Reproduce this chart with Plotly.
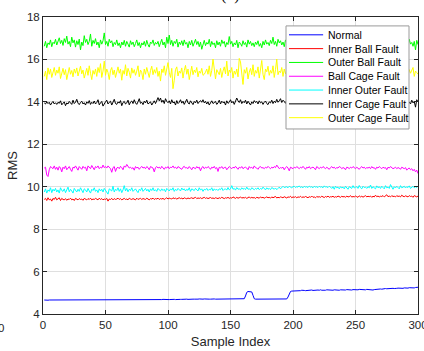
import plotly.graph_objects as go

sample_index = list(range(1, 301))

normal = [
    4.66,4.65,4.66,4.65,4.66,4.66,4.65,4.66,4.65,4.66,
    4.66,4.65,4.66,4.66,4.65,4.66,4.66,4.65,4.66,4.65,
    4.66,4.66,4.65,4.66,4.66,4.65,4.66,4.66,4.65,4.66,
    4.66,4.65,4.66,4.66,4.67,4.66,4.65,4.66,4.66,4.65,
    4.66,4.66,4.65,4.66,4.66,4.67,4.66,4.66,4.65,4.66,
    4.66,4.67,4.66,4.66,4.67,4.66,4.67,4.66,4.66,4.67,
    4.66,4.67,4.67,4.66,4.67,4.66,4.67,4.67,4.66,4.67,
    4.67,4.66,4.67,4.67,4.68,4.67,4.67,4.68,4.67,4.67,
    4.68,4.67,4.68,4.67,4.68,4.68,4.67,4.68,4.68,4.67,
    4.68,4.68,4.67,4.68,4.68,4.69,4.68,4.68,4.69,4.68,
    4.68,4.69,4.68,4.69,4.69,4.68,4.69,4.69,4.68,4.69,
    4.69,4.70,4.69,4.69,4.70,4.69,4.70,4.71,4.69,4.70,
    4.70,4.69,4.70,4.70,4.71,4.70,4.69,4.70,4.71,4.70,
    4.70,4.71,4.70,4.70,4.71,4.70,4.71,4.70,4.70,4.71,
    4.70,4.71,4.70,4.71,4.70,4.70,4.71,4.70,4.71,4.70,
    4.71,4.70,4.70,4.71,4.70,4.71,4.70,4.70,4.71,4.70,
    4.72,4.85,5.02,5.06,5.06,5.06,5.04,4.88,4.72,4.70,
    4.70,4.71,4.70,4.70,4.71,4.70,4.71,4.70,4.71,4.70,
    4.71,4.70,4.71,4.71,4.70,4.71,4.70,4.71,4.71,4.70,
    4.71,4.70,4.71,4.72,4.71,4.80,4.98,5.06,5.08,5.08,
    5.09,5.08,5.09,5.10,5.09,5.10,5.12,5.10,5.11,5.10,
    5.11,5.12,5.10,5.12,5.13,5.11,5.12,5.10,5.12,5.13,
    5.12,5.14,5.12,5.11,5.13,5.12,5.14,5.13,5.12,5.14,
    5.13,5.12,5.14,5.13,5.11,5.10,5.12,5.14,5.13,5.15,
    5.14,5.13,5.15,5.14,5.15,5.14,5.13,5.15,5.14,5.16,
    5.15,5.14,5.16,5.15,5.14,5.16,5.15,5.14,5.16,5.15,
    5.16,5.15,5.14,5.13,5.15,5.16,5.17,5.16,5.17,5.18,
    5.17,5.19,5.18,5.20,5.19,5.20,5.21,5.19,5.20,5.21,
    5.20,5.22,5.21,5.22,5.21,5.23,5.22,5.21,5.23,5.22,
    5.23,5.22,5.24,5.23,5.22,5.24,5.23,5.25,5.24,5.26,
]

inner_ball = [
    9.40,9.45,9.35,9.48,9.38,9.42,9.32,9.45,9.40,9.50,
    9.38,9.42,9.48,9.35,9.45,9.40,9.38,9.44,9.36,9.42,
    9.40,9.46,9.38,9.42,9.35,9.45,9.40,9.38,9.44,9.40,
    9.42,9.36,9.45,9.40,9.38,9.44,9.40,9.46,9.38,9.42,
    9.40,9.45,9.42,9.38,9.46,9.40,9.44,9.38,9.42,9.40,
    9.45,9.32,9.42,9.40,9.45,9.38,9.44,9.40,9.42,9.46,
    9.40,9.44,9.38,9.42,9.45,9.40,9.42,9.38,9.46,9.42,
    9.40,9.44,9.42,9.38,9.46,9.40,9.43,9.45,9.40,9.44,
    9.42,9.40,9.46,9.42,9.38,9.44,9.42,9.46,9.40,9.44,
    9.42,9.46,9.40,9.44,9.42,9.45,9.40,9.44,9.48,9.42,
    9.46,9.44,9.42,9.48,9.44,9.46,9.42,9.45,9.48,9.44,
    9.46,9.42,9.48,9.45,9.43,9.47,9.44,9.46,9.48,9.44,
    9.46,9.50,9.44,9.47,9.45,9.48,9.44,9.46,9.50,9.45,
    9.48,9.44,9.46,9.49,9.45,9.47,9.44,9.48,9.46,9.44,
    9.48,9.45,9.50,9.46,9.44,9.48,9.46,9.50,9.45,9.48,
    9.46,9.52,9.47,9.45,9.50,9.46,9.48,9.52,9.46,9.49,
    9.47,9.50,9.45,9.48,9.52,9.46,9.50,9.47,9.49,9.45,
    9.50,9.48,9.46,9.52,9.48,9.50,9.46,9.49,9.52,9.48,
    9.50,9.46,9.52,9.48,9.50,9.54,9.47,9.50,9.48,9.52,
    9.50,9.48,9.53,9.50,9.47,9.52,9.50,9.55,9.48,9.52,
    9.50,9.53,9.48,9.52,9.50,9.55,9.49,9.52,9.50,9.54,
    9.51,9.48,9.53,9.50,9.56,9.50,9.52,9.48,9.54,9.51,
    9.53,9.50,9.55,9.52,9.49,9.54,9.51,9.56,9.50,9.53,
    9.52,9.55,9.50,9.53,9.51,9.56,9.52,9.50,9.55,9.52,
    9.54,9.50,9.56,9.52,9.53,9.58,9.51,9.54,9.52,9.56,
    9.53,9.50,9.57,9.52,9.55,9.51,9.54,9.58,9.52,9.55,
    9.53,9.56,9.50,9.55,9.52,9.60,9.53,9.56,9.52,9.55,
    9.54,9.58,9.52,9.55,9.62,9.53,9.56,9.52,9.58,9.54,
    9.55,9.52,9.58,9.54,9.56,9.52,9.60,9.55,9.53,9.57,
    9.55,9.52,9.58,9.54,9.56,9.50,9.58,9.55,9.52,9.56,
]

outer_ball = [
    16.62,16.85,16.55,16.78,16.70,16.92,16.60,16.81,16.74,16.95,
    16.68,16.88,17.02,16.75,16.90,16.66,16.98,16.80,17.10,16.72,
    16.85,16.60,17.05,16.78,16.92,16.58,16.88,16.70,16.96,16.45,
    16.82,16.65,17.12,16.80,16.95,16.70,16.85,17.20,16.62,16.90,
    16.75,16.98,16.68,16.82,16.55,16.92,16.72,16.88,17.25,16.70,
    16.85,16.62,16.95,16.78,16.88,16.60,16.80,16.70,16.92,16.65,
    16.78,16.55,16.82,16.68,16.90,16.62,16.85,16.72,16.58,16.88,
    16.70,16.82,16.60,16.75,16.92,16.65,16.80,16.55,16.78,16.68,
    16.85,16.62,16.90,16.70,16.58,16.82,16.75,16.92,16.66,16.80,
    16.72,16.85,16.60,16.78,16.95,16.68,16.82,16.55,17.05,16.75,
    17.15,16.70,16.90,16.62,16.85,16.75,16.95,16.58,16.82,16.70,
    16.88,16.65,16.92,16.72,16.80,16.55,16.85,16.68,16.90,16.62,
    16.78,16.95,16.70,16.85,16.60,16.82,16.48,16.75,16.90,16.65,
    16.80,16.72,16.95,16.60,16.85,16.70,16.78,16.55,16.88,16.68,
    16.82,16.62,16.92,16.75,16.85,16.58,16.80,16.70,17.08,16.72,
    16.85,16.60,16.78,16.68,16.90,16.55,16.82,16.75,16.62,16.88,
    16.70,16.80,16.58,16.92,16.72,16.85,16.65,16.78,16.60,16.82,
    16.70,16.88,16.62,16.75,16.55,16.85,16.68,16.92,16.72,16.80,
    16.65,16.90,16.75,17.05,16.70,16.85,16.62,16.95,16.78,16.88,
    16.68,16.82,16.60,16.92,16.75,16.85,16.70,16.95,16.58,16.80,
    16.72,16.88,16.65,16.82,16.95,16.70,16.85,16.62,16.90,16.78,
    16.68,16.92,16.75,16.85,16.60,16.88,16.72,16.95,16.65,16.80,
    16.78,16.62,16.90,16.70,16.85,16.58,16.92,16.75,16.82,16.68,
    16.95,16.72,16.85,16.62,16.80,16.70,16.92,16.78,16.65,16.88,
    16.75,16.82,16.60,16.95,16.70,16.85,16.68,16.90,16.78,16.62,
    16.88,16.72,16.80,16.65,16.92,16.75,16.85,16.58,16.82,16.70,
    16.95,16.62,16.88,16.75,16.80,16.68,16.92,16.72,16.85,16.60,
    16.78,16.90,16.70,16.82,16.65,16.95,16.75,16.88,16.62,16.80,
    16.72,16.92,16.68,16.85,16.78,16.60,16.90,16.75,16.82,16.70,
    16.88,16.65,16.95,16.72,16.80,16.62,16.85,16.45,16.90,16.70,
]

ball_cage = [
    10.88,10.92,10.55,10.48,10.80,10.95,10.90,10.85,10.98,10.82,
    10.92,10.78,10.95,10.88,10.70,10.92,10.85,10.98,10.80,10.90,
    10.95,10.82,10.72,10.92,10.88,10.98,10.85,10.78,10.95,10.90,
    10.82,10.96,10.88,10.92,10.75,10.98,10.90,10.85,11.00,10.88,
    10.80,10.95,10.90,10.98,10.85,10.92,10.88,11.02,10.90,10.95,
    10.88,10.98,10.92,10.85,10.68,10.90,10.95,10.72,10.88,10.92,
    10.85,10.96,10.90,10.80,10.98,10.92,11.05,10.95,10.88,10.92,
    10.85,10.90,10.78,10.95,10.88,10.92,10.82,10.90,10.96,10.88,
    10.92,10.85,10.95,10.90,10.80,10.95,10.92,10.88,10.70,10.90,
    10.95,10.88,10.92,10.85,10.96,10.90,10.82,10.92,10.88,10.95,
    10.85,10.92,10.90,10.98,10.88,10.92,10.85,10.95,10.90,10.88,
    10.82,10.92,10.96,10.88,10.90,10.85,10.95,10.88,10.80,10.92,
    10.90,10.85,10.95,10.88,10.92,10.75,10.90,10.95,10.85,10.92,
    10.88,10.95,10.90,10.82,10.92,10.88,10.96,10.85,10.90,10.72,
    10.92,10.88,10.95,10.85,10.90,10.92,10.80,10.88,10.95,10.90,
    10.85,10.92,10.88,10.96,10.90,10.82,10.92,10.88,10.95,10.85,
    10.90,10.92,10.88,10.80,10.95,10.88,10.92,10.85,10.98,10.90,
    10.88,10.82,10.92,10.95,10.88,10.90,10.85,10.92,10.88,10.96,
    10.90,10.85,10.92,10.88,10.95,10.90,11.02,10.92,10.85,10.90,
    10.88,10.92,10.80,10.90,10.95,10.88,10.75,10.92,10.90,10.85,
    10.92,10.88,10.95,10.90,10.85,10.92,10.88,10.96,10.90,10.82,
    10.92,10.88,10.95,10.85,10.90,10.92,10.88,10.80,10.95,10.90,
    10.85,10.92,10.88,10.95,10.90,10.85,10.92,10.88,10.82,10.90,
    10.95,10.88,10.92,10.85,10.90,10.88,10.95,10.92,10.85,10.90,
    10.88,10.80,10.92,10.90,10.85,10.92,10.88,10.95,10.90,10.85,
    10.92,10.88,10.82,10.90,10.95,10.88,10.92,10.85,10.90,10.88,
    10.92,10.85,10.95,10.88,10.90,10.82,10.92,10.88,10.95,10.90,
    10.85,10.92,10.88,10.90,10.80,10.92,10.88,10.95,10.90,10.85,
    10.88,10.92,10.85,10.90,10.88,10.82,10.92,10.88,10.85,10.90,
    10.78,10.85,10.88,10.80,10.85,10.75,10.82,10.70,10.78,10.62,
]

inner_outer = [
    9.75,9.90,9.70,9.85,9.78,9.95,9.72,9.88,9.80,9.92,
    9.75,9.85,9.70,9.95,9.82,9.78,9.90,9.72,9.85,9.98,
    9.76,9.88,9.80,9.70,9.92,9.82,9.75,9.88,9.78,9.95,
    9.80,9.72,9.90,9.85,9.75,9.92,9.80,9.70,9.88,9.82,
    9.95,9.78,9.85,9.72,9.90,9.80,9.88,9.75,9.92,9.82,
    9.78,9.65,9.90,9.85,9.80,10.02,9.75,9.88,9.82,9.95,
    9.78,9.90,9.72,9.85,10.05,9.80,9.92,9.76,9.88,9.82,
    9.95,9.78,9.85,9.90,9.80,9.72,9.88,9.82,9.95,9.78,
    9.85,9.92,9.80,9.88,9.75,9.90,9.82,9.95,9.80,9.86,
    9.78,9.92,9.85,9.80,9.90,9.82,9.88,9.76,9.92,9.85,
    9.80,9.90,9.84,9.95,9.78,9.88,9.82,9.92,9.86,9.80,
    9.94,9.85,9.90,9.80,9.88,9.83,9.95,9.78,9.90,9.85,
    9.82,9.92,9.86,9.80,9.95,9.84,9.90,9.78,9.88,9.85,
    9.92,9.82,9.88,9.85,9.95,9.80,9.90,9.84,9.88,9.82,
    9.90,9.86,9.95,9.82,9.88,9.90,9.84,9.96,9.85,9.90,
    10.05,9.88,9.92,9.84,9.96,9.88,9.90,9.85,9.95,9.88,
    9.92,9.86,9.98,9.88,9.90,9.85,9.95,9.90,9.86,9.92,
    9.88,9.95,9.86,9.92,9.88,9.98,9.90,9.85,9.95,9.88,
    9.92,9.86,9.96,9.90,9.88,9.94,9.86,9.92,9.98,9.90,
    9.95,10.02,9.96,9.98,10.00,9.95,10.02,9.98,9.95,10.00,
    10.02,9.96,10.00,9.98,10.04,9.96,10.00,9.95,10.02,9.98,
    10.00,9.96,10.03,9.98,10.00,9.95,10.02,9.98,10.00,9.96,
    10.02,9.98,10.00,9.95,10.04,9.98,10.00,9.96,10.02,9.98,
    9.92,10.00,9.88,10.02,9.95,9.98,9.90,10.00,9.94,9.98,
    9.90,10.02,9.95,9.88,10.00,9.96,9.92,10.05,9.94,9.98,
    10.00,9.92,10.06,9.95,9.90,10.02,9.96,9.98,9.92,10.00,
    9.95,10.08,9.92,10.00,9.96,9.90,10.04,9.95,10.00,9.92,
    10.02,9.96,9.90,10.05,9.95,9.98,9.92,10.10,9.95,9.88,
    10.00,9.94,10.02,9.96,9.90,10.05,9.95,9.98,10.02,9.94,
    10.00,9.96,10.04,9.92,9.98,10.02,9.95,10.00,9.96,10.02,
]

inner_cage = [
    13.95,13.90,14.00,13.92,13.98,13.85,13.95,14.02,13.90,13.96,
    13.88,13.98,13.93,14.05,13.86,13.95,14.00,13.82,13.95,13.90,
    14.02,13.95,13.88,14.08,13.92,13.98,14.12,13.94,13.87,13.97,
    14.03,13.90,13.96,13.85,14.00,13.93,14.06,13.88,13.98,13.92,
    14.04,13.90,13.97,14.10,13.86,13.95,14.02,13.80,13.94,14.00,
    14.08,13.90,13.98,14.03,13.85,13.96,14.12,13.92,13.88,14.00,
    13.94,14.06,13.82,13.97,14.02,13.90,13.95,14.08,13.86,13.99,
    14.04,13.92,14.10,13.95,13.88,14.00,14.15,13.93,13.98,13.87,
    14.03,13.95,14.08,13.90,13.97,14.00,13.85,13.98,14.05,13.92,
    14.12,14.20,14.05,14.18,13.98,14.08,13.92,14.15,14.02,13.96,
    14.05,13.90,14.10,13.95,14.00,13.85,14.06,13.92,13.98,14.10,
    13.94,14.03,13.88,14.00,14.12,13.95,13.90,14.05,13.97,13.87,
    14.02,13.95,14.08,13.92,14.00,14.06,13.98,14.10,13.95,14.02,
    13.90,14.00,13.85,13.97,14.05,13.92,13.98,14.02,13.88,13.95,
    14.08,13.90,14.03,13.96,14.00,13.85,14.05,13.93,13.98,14.10,
    13.95,14.02,13.88,14.00,14.18,14.05,13.97,14.10,13.92,14.02,
    13.96,14.08,13.90,14.03,13.95,13.85,14.00,13.92,14.06,13.97,
    14.02,13.90,14.05,13.95,14.00,13.88,13.98,14.04,13.92,13.87,
    14.00,13.95,14.08,13.92,14.03,13.96,14.12,13.98,14.05,14.15,
    13.97,14.08,14.02,13.93,14.10,13.98,14.05,13.90,14.00,14.06,
    13.95,14.03,13.88,14.00,14.08,13.92,13.98,14.05,13.95,14.02,
    13.90,14.00,14.10,13.93,13.98,14.05,13.88,14.02,13.95,14.00,
    14.06,13.92,13.97,14.03,13.85,14.00,13.95,14.08,13.92,13.98,
    14.02,13.90,14.05,13.96,14.00,13.88,13.98,14.06,13.94,14.02,
    13.95,14.08,13.92,13.98,14.03,13.90,14.00,13.85,14.05,13.96,
    14.00,13.93,14.08,13.95,14.02,13.88,13.98,14.04,13.92,13.98,
    14.05,13.90,14.00,13.95,14.06,13.92,13.98,14.02,13.87,14.00,
    13.95,14.05,13.90,14.00,13.96,14.08,13.92,13.98,14.03,13.95,
    14.02,13.88,14.00,13.94,14.06,13.97,13.85,14.02,13.95,14.00,
    13.92,14.05,13.98,13.90,14.08,13.95,14.02,13.75,14.10,14.00,
]

outer_cage = [
    15.20,15.45,15.05,15.60,15.30,15.55,15.15,15.48,15.62,15.25,
    15.50,15.35,15.65,15.10,15.42,15.58,15.28,15.52,15.05,15.40,
    15.62,15.30,15.48,15.18,15.55,15.35,15.60,15.22,15.45,15.68,
    15.32,15.50,15.12,15.42,15.58,15.25,15.70,15.35,15.05,15.48,
    15.30,15.55,15.20,15.62,15.38,15.80,15.15,15.45,15.92,15.25,
    15.55,15.38,15.05,15.48,15.62,15.28,15.50,15.15,15.42,15.65,
    15.35,15.55,15.02,15.48,15.30,15.75,15.22,15.58,15.40,15.12,
    15.60,15.35,15.52,15.25,15.45,15.70,15.18,15.50,15.38,15.05,
    15.55,15.30,15.62,15.42,15.15,15.48,15.68,15.28,15.52,15.35,
    15.62,15.20,15.45,14.98,15.55,15.38,15.70,15.25,15.48,15.85,
    15.40,15.15,15.58,14.62,15.02,15.52,15.65,15.22,15.45,15.35,
    15.60,15.12,15.48,15.72,15.30,15.55,15.05,15.42,15.68,15.28,
    15.50,15.38,15.62,15.18,15.45,15.35,15.58,15.25,15.30,15.40,
    15.55,15.30,15.70,15.20,15.48,16.02,15.35,15.08,15.52,15.42,
    15.28,15.58,15.15,15.45,15.65,15.32,15.92,15.22,15.50,15.38,
    15.62,15.12,15.45,15.30,15.55,15.18,16.05,15.88,15.25,14.82,
    15.52,15.35,15.62,15.08,15.40,15.58,15.28,15.75,15.20,15.48,
    15.35,15.65,15.12,15.50,15.95,15.30,15.05,15.55,15.42,15.68,
    15.25,15.48,15.35,15.70,15.15,15.52,16.02,15.28,15.45,15.38,
    15.62,15.20,15.55,15.32,15.48,15.12,15.65,15.40,15.28,15.58,
    15.35,15.50,15.15,15.62,15.30,15.45,15.72,15.22,15.55,15.38,
    15.48,15.25,15.60,15.35,15.12,15.52,15.42,15.68,15.28,15.45,
    15.32,15.58,15.18,15.50,15.40,15.65,15.22,15.48,15.35,15.55,
    15.28,15.62,15.40,15.15,15.52,15.35,15.45,15.70,15.25,15.50,
    15.38,15.55,15.20,15.48,15.62,15.30,15.45,15.18,15.58,15.35,
    15.50,15.25,15.65,15.40,15.12,15.55,15.32,15.48,15.60,15.28,
    15.45,15.35,15.58,15.20,15.52,15.40,15.68,15.25,15.48,15.35,
    15.55,15.30,15.62,15.18,15.45,15.38,15.52,15.28,15.60,15.35,
    15.42,15.55,15.22,15.48,15.65,15.30,15.50,15.38,15.12,15.45,
    15.58,15.25,15.52,15.35,15.48,15.62,15.20,15.45,15.38,15.30,
]

series_names = ["Normal", "Inner Ball Fault", "Outer Ball Fault", "Ball Cage Fault",
                "Inner Outer Fault", "Inner Cage Fault", "Outer Cage Fault"]
series_values = [normal, inner_ball, outer_ball, ball_cage, inner_outer, inner_cage, outer_cage]
series_colors = ["#0000ff", "#ff0000", "#00ff00", "#ff00ff", "#00ffff", "#000000", "#ffff00"]

x_ticks = [0, 50, 100, 150, 200, 250, 300]
y_ticks = [4, 6, 8, 10, 12, 14, 16, 18]

FONT = "Liberation Sans, Arial, sans-serif"
AXIS_COLOR = "#262626"

fig = go.Figure()
for name, vals, col in zip(series_names, series_values, series_colors):
    fig.add_trace(go.Scatter(x=sample_index, y=vals, mode="lines", name=name,
                             line=dict(color=col, width=1), showlegend=False))

axis_common = dict(
    showgrid=True, gridcolor="#dfdfdf", gridwidth=1,
    showline=True, linecolor=AXIS_COLOR, linewidth=1, mirror="ticks",
    ticks="inside", ticklen=4, tickcolor=AXIS_COLOR, tickwidth=1,
    zeroline=False, ticklabeloverflow="allow", automargin=False,
    tickfont=dict(family=FONT, size=11.5, color=AXIS_COLOR),
)

fig.update_xaxes(range=[0, 300], tickvals=x_ticks,
                 title=dict(text="Sample Index", standoff=7,
                            font=dict(family=FONT, size=13, color=AXIS_COLOR)),
                 **axis_common)
fig.update_yaxes(range=[4, 18], tickvals=y_ticks,
                 title=dict(text="RMS", standoff=6,
                            font=dict(family=FONT, size=13, color=AXIS_COLOR)),
                 **axis_common)

# Boxed legend in the upper-right corner, laid out in paper coordinates
leg_left, leg_right, leg_top, leg_bottom = 0.648, 0.976, 0.970, 0.623
sample_x0, sample_x1, label_x = 0.656, 0.747, 0.755
row_top, row_step = 0.940, 0.0465

shapes = [dict(type="rect", xref="paper", yref="paper", layer="above",
               x0=leg_left, x1=leg_right, y0=leg_bottom, y1=leg_top,
               fillcolor="white", line=dict(color="#9a9a9a", width=1))]
annotations = []
for i, (name, col) in enumerate(zip(series_names, series_colors)):
    yy = row_top - i * row_step
    shapes.append(dict(type="line", xref="paper", yref="paper", layer="above",
                       x0=sample_x0, x1=sample_x1, y0=yy, y1=yy,
                       line=dict(color=col, width=1)))
    annotations.append(dict(text=name, xref="paper", yref="paper", x=label_x, y=yy,
                            xanchor="left", yanchor="middle", showarrow=False,
                            font=dict(family=FONT, size=10.5, color="#000000")))

annotations += [
    dict(text="(n)", xref="paper", yref="paper", x=0.5, y=1.0, yshift=11,
         xanchor="center", yanchor="bottom", showarrow=False,
         font=dict(family="Liberation Serif, Times New Roman, serif", size=16, color="#000000")),
    dict(text="0", xref="paper", yref="paper", x=-0.112, y=0, yshift=-14,
         xanchor="center", yanchor="middle", showarrow=False,
         font=dict(family=FONT, size=11.5, color=AXIS_COLOR)),
]

fig.update_layout(
    width=424, height=351,
    margin=dict(l=43, r=6, t=17, b=37),
    paper_bgcolor="white", plot_bgcolor="white",
    showlegend=False,
    shapes=shapes,
    annotations=annotations,
)

fig.write_html("out.html")
